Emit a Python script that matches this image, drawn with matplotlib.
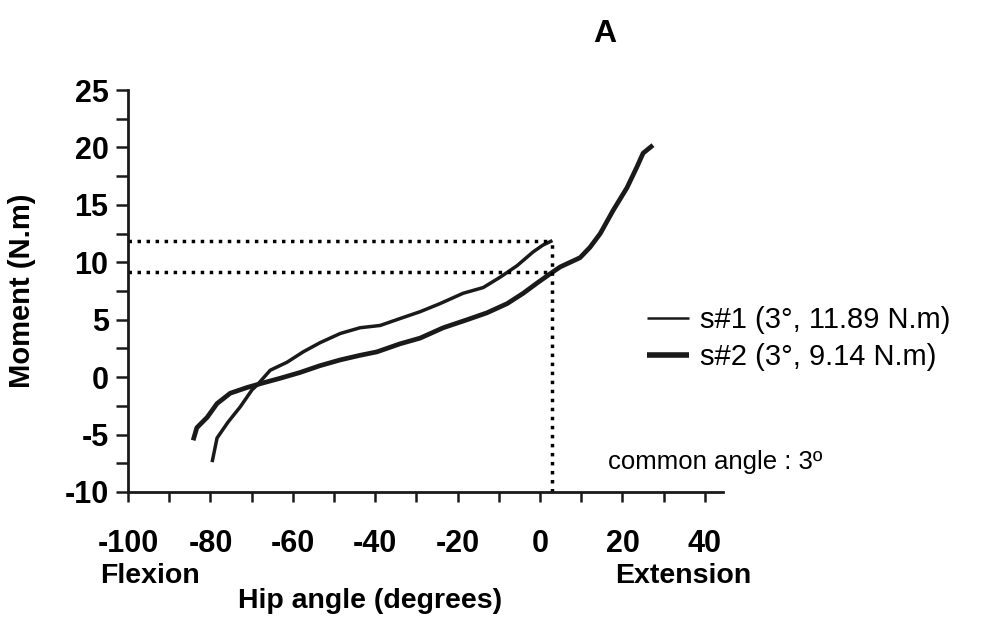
import matplotlib
matplotlib.use("Agg")
import matplotlib.pyplot as plt
from matplotlib.ticker import MultipleLocator

plt.rcParams['font.family'] = ['Liberation Sans', 'DejaVu Sans']
plt.rcParams['axes.unicode_minus'] = False

# --- data ---
s1_angle = [-79.6, -78.4, -75.7, -72.8, -69.9, -68.7, -65.5, -61.4, -57.5, -53.4,
            -48.5, -43.7, -38.8, -34.0, -29.1, -24.3, -18.7, -13.8, -9.7, -5.6,
            -1.7, 0.7, 3.0]
s1_moment = [-7.4, -5.3, -3.9, -2.6, -1.1, -0.7, 0.6, 1.3, 2.2, 3.0,
             3.8, 4.3, 4.5, 5.1, 5.7, 6.4, 7.3, 7.8, 8.7, 9.7,
             10.9, 11.5, 11.89]

s2_angle = [-84.2, -83.3, -80.8, -78.4, -75.2, -71.1, -67.2, -63.1, -58.3, -53.4,
            -48.5, -43.7, -39.6, -34.0, -29.1, -23.5, -17.7, -12.9, -8.0, -4.1,
            -0.7, 3.0, 4.9, 9.7, 12.1, 14.6, 17.7, 21.1, 23.5, 25.0, 27.4]
s2_moment = [-5.5, -4.4, -3.5, -2.3, -1.4, -0.9, -0.5, -0.1, 0.4, 1.0,
             1.5, 1.9, 2.2, 2.9, 3.4, 4.3, 5.0, 5.6, 6.4, 7.3,
             8.2, 9.14, 9.6, 10.4, 11.3, 12.5, 14.5, 16.5, 18.3, 19.5, 20.2]

common_angle = 3
s1_at_common = 11.89
s2_at_common = 9.14
labels = ["s#1 (3°, 11.89 N.m)", "s#2 (3°, 9.14 N.m)"]

# --- figure ---
fig = plt.figure(figsize=(9.88, 6.34), dpi=100)
ax = fig.add_axes([0.1296, 0.224, 0.6022, 0.634])

ink = '#1a1a1a'
ax.plot(s1_angle, s1_moment, color=ink, lw=2.5, label=labels[0], solid_capstyle='butt')
ax.plot(s2_angle, s2_moment, color=ink, lw=3.4, label=labels[1], solid_capstyle='butt')

# guide lines at the common angle
dot = dict(color='black', lw=2.5, linestyle=(0, (1, 1.6)), dash_capstyle='butt')
ax.plot([-100, common_angle], [s1_at_common, s1_at_common], **dot)
ax.plot([-100, common_angle], [s2_at_common, s2_at_common], **dot)
ax.plot([common_angle, common_angle], [-10, s1_at_common], **dot)

ax.set_xlim(-100, 44.4)
ax.set_ylim(-10, 25)
ax.xaxis.set_major_locator(MultipleLocator(20))
ax.xaxis.set_minor_locator(MultipleLocator(10))
ax.yaxis.set_major_locator(MultipleLocator(5))
ax.yaxis.set_minor_locator(MultipleLocator(2.5))

for s in ['top', 'right']:
    ax.spines[s].set_visible(False)
for s in ['left', 'bottom']:
    ax.spines[s].set_linewidth(2)
    ax.spines[s].set_color(ink)

ax.tick_params(axis='both', which='both', direction='out', width=1.8, color=ink)
ax.tick_params(axis='y', which='both', length=9, pad=5, labelsize=22)
ax.tick_params(axis='x', which='both', length=7.5, pad=19, labelsize=22)
for t in ax.get_xticklabels() + ax.get_yticklabels():
    t.set_fontweight('bold')

ax.set_ylabel("Moment (N.m)", fontsize=21, fontweight='bold')
ax.yaxis.set_label_coords(-0.155, 0.5)

fig.text(0.375, 0.052, "Hip angle (degrees)", fontsize=20.5, fontweight='bold',
         ha='center', va='center')
fig.text(0.101, 0.091, "Flexion", fontsize=20.5, fontweight='bold', ha='left', va='center')
fig.text(0.760, 0.091, "Extension", fontsize=20.5, fontweight='bold', ha='right', va='center')
fig.text(0.612, 0.947, "A", fontsize=23, fontweight='bold', ha='center', va='center')

fig.text(0.615, 0.271, "common angle : 3º", fontsize=18.5, ha='left', va='center')

leg = fig.legend(loc='center left', bbox_to_anchor=(0.655, 0.466), frameon=False,
                 fontsize=21, handlelength=1.45, handletextpad=0.35, labelspacing=0.3,
                 borderaxespad=0, borderpad=0)
leg.get_lines()[0].set_linewidth(1.8)
leg.get_lines()[1].set_linewidth(4)

fig.savefig("out.png", dpi=100)
